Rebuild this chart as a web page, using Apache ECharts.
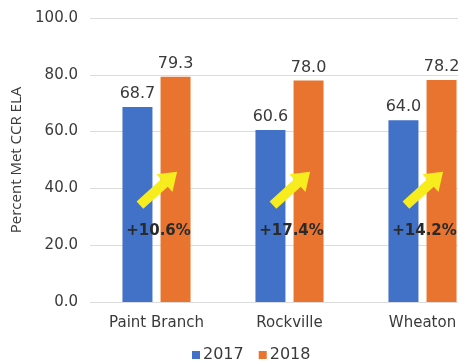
<!DOCTYPE html>
<html>
<head>
<meta charset="utf-8">
<script src="https://cdn.jsdelivr.net/npm/echarts@6/dist/echarts.min.js"></script>
<style>
  html, body { margin: 0; padding: 0; background: #fff; }
  #chart { width: 458px; height: 362px; }
</style>
</head>
<body>
<div id="chart"></div>
<script>
// School results, percent of students meeting CCR in ELA
const schools = ['Paint Branch', 'Rockville', 'Wheaton'];
const values2017 = [68.7, 60.6, 64.0];
const values2018 = [79.3, 78.0, 78.2];
const yTicks = [0, 20, 40, 60, 80, 100];

// Gains between the two years, shown beside an arrow for each school
const gains = values2018.map((v, i) => v - values2017[i]);
const arrowLevel = 40;   // y value at the arrow centre
const gainLevel = 25;    // y value of the gain label

const chart = echarts.init(document.getElementById('chart'));
const font = 'DejaVu Sans, Verdana, sans-serif';
const textColor = '#3a3a3a';

chart.setOption({
  animation: false,
  textStyle: { fontFamily: font },
  // plot area runs past the right edge of the canvas
  grid: { left: 90, width: 399, top: 18, height: 284, outerBoundsMode: 'none', containLabel: false },
  legend: {
    data: ['2017', '2018'],
    left: 187, top: 342,
    itemWidth: 8, itemHeight: 8, itemGap: 15,
    icon: 'rect',
    textStyle: { fontSize: 16, color: textColor, fontFamily: font, padding: [0, 0, 0, -2] }
  },
  xAxis: {
    type: 'category',
    data: schools,
    axisLine: { show: false },
    axisTick: { show: false },
    axisLabel: { interval: 0, fontSize: 15, color: textColor, margin: 14, fontFamily: font }
  },
  yAxis: {
    type: 'value',
    min: yTicks[0], max: yTicks[yTicks.length - 1], interval: 20,
    name: 'Percent Met CCR ELA',
    nameLocation: 'middle',
    nameGap: 63,
    nameTextStyle: { fontSize: 15, color: textColor, fontFamily: 'Open Sans, sans-serif' },
    axisLabel: {
      fontSize: 15, color: textColor, margin: 12, fontFamily: font,
      formatter: v => v.toFixed(1)
    },
    splitLine: { lineStyle: { color: '#dcdcdc', width: 1 } }
  },
  series: [
    {
      name: '2017', type: 'bar', data: values2017,
      barWidth: 30, barGap: '27%',
      itemStyle: { color: '#4271C8' },
      label: {
        show: true, position: 'top', distance: 5,
        fontSize: 16, color: textColor, fontFamily: font,
        formatter: p => p.value.toFixed(1)
      }
    },
    {
      name: '2018', type: 'bar', data: values2018,
      barWidth: 30,
      itemStyle: { color: '#E97430' },
      label: {
        show: true, position: 'top', distance: 5,
        fontSize: 16, color: textColor, fontFamily: font,
        formatter: p => p.value.toFixed(1)
      }
    },
    {
      // yellow arrow plus gain label drawn at each school's category
      type: 'custom',
      silent: true,
      z: 10,
      data: schools.map((s, i) => [i, arrowLevel, gainLevel, gains[i]]),
      renderItem: function (params, api) {
        const c = api.coord([api.value(0), api.value(1)]);
        const t = api.coord([api.value(0), api.value(2)]);
        const ang = 42 * Math.PI / 180;
        const ux = Math.cos(ang), uy = -Math.sin(ang);
        const nx = -uy, ny = ux;
        const L = 50, hw = 5, headW = 12, headL = 17;
        const local = [
          [-L / 2, -hw], [L / 2 - headL, -hw], [L / 2 - headL, -headW],
          [L / 2, 0], [L / 2 - headL, headW], [L / 2 - headL, hw], [-L / 2, hw]
        ];
        const pts = local.map(([a, b]) => [c[0] + 2 + a * ux + b * nx, c[1] + a * uy + b * ny]);
        return {
          type: 'group',
          children: [
            { type: 'polygon', shape: { points: pts }, style: { fill: '#F7EC1E' } },
            {
              type: 'text',
              x: t[0] + 2, y: t[1],
              style: {
                text: '+' + api.value(3).toFixed(1) + '%',
                fontSize: 15, fontWeight: 'bold', fontFamily: font,
                fill: '#2a2a2a', align: 'center', verticalAlign: 'middle'
              }
            }
          ]
        };
      }
    }
  ]
});
</script>
</body>
</html>
